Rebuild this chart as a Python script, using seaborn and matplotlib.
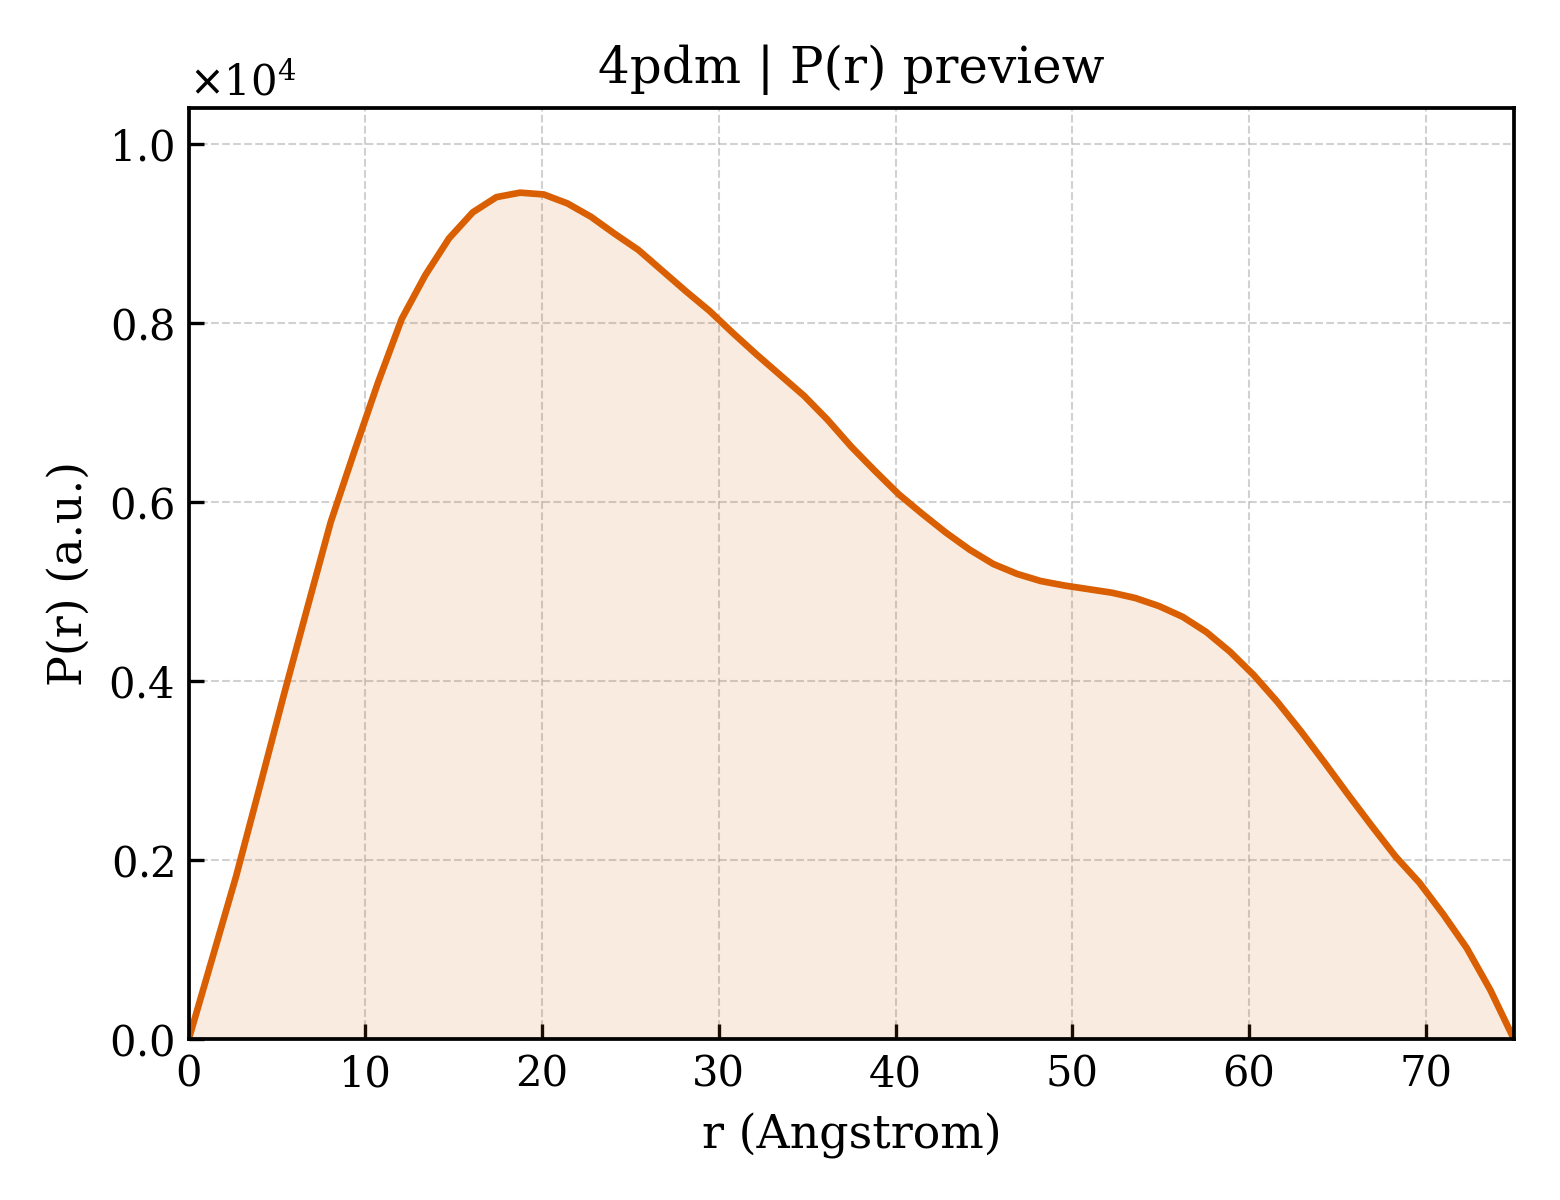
import numpy as np
import pandas as pd
import matplotlib
matplotlib.use("Agg")
import matplotlib.pyplot as plt
import seaborn as sns


TITLE = "4pdm | P(r) preview"
LINE_COLOR = "#D95F02"

# r grid: 57 points from 0 to Dmax = 75 A
R_MAX = 75.0
N_POINTS = 57

# P(r) values, in units of 1e4
PR_SCALED = [
    0.000, 0.091, 0.182, 0.282, 0.383, 0.481, 0.578, 0.657, 0.734, 0.805,
    0.854, 0.895, 0.924, 0.941, 0.946, 0.944, 0.934, 0.919, 0.900, 0.882,
    0.859, 0.836, 0.814, 0.789, 0.765, 0.742, 0.719, 0.692, 0.662, 0.635,
    0.609, 0.587, 0.566, 0.547, 0.531, 0.520, 0.512, 0.507, 0.503, 0.499,
    0.493, 0.484, 0.472, 0.455, 0.433, 0.407, 0.377, 0.344, 0.309, 0.273,
    0.238, 0.204, 0.175, 0.140, 0.102, 0.055, 0.000,
]


def main():
    r = np.linspace(0.0, R_MAX, N_POINTS)
    pr = np.array(PR_SCALED) * 1e4
    df = pd.DataFrame({"r": r, "pr": pr})

    sns.set_style("white")
    plt.rcParams["font.family"] = ["DejaVu Serif"]
    plt.rcParams["xtick.direction"] = "in"
    plt.rcParams["ytick.direction"] = "in"
    plt.rcParams["text.color"] = "black"
    plt.rcParams["axes.labelcolor"] = "black"
    plt.rcParams["xtick.color"] = "black"
    plt.rcParams["ytick.color"] = "black"

    fig, ax = plt.subplots(figsize=(5.2, 4.0), dpi=300)
    fig.subplots_adjust(left=0.121, right=0.9705, bottom=0.134, top=0.91)

    ax.fill_between(df["r"], 0, df["pr"], color=LINE_COLOR, alpha=0.12, lw=0)
    sns.lineplot(data=df, x="r", y="pr", ax=ax, color=LINE_COLOR, lw=1.6)

    ax.set_xlim(0, R_MAX)
    ax.set_ylim(0, pr.max() * 1.1)
    ax.set_xticks(np.arange(0, 71, 10))
    ax.ticklabel_format(axis="y", style="sci", scilimits=(0, 0), useMathText=True)

    ax.set_xlabel("r (Angstrom)", fontsize=11, color="black")
    ax.set_ylabel("P(r) (a.u.)", fontsize=11, color="black")
    ax.set_title(TITLE, fontsize=12, color="black")

    ax.tick_params(axis="both", which="major", labelsize=10, length=3.5, width=0.8,
                   color="black", labelcolor="black", bottom=True, left=True)
    ax.yaxis.get_offset_text().set_fontsize(10)
    ax.yaxis.get_offset_text().set_color("black")
    ax.grid(True, ls="--", lw=0.5, color="0.6", alpha=0.45)
    for side in ax.spines.values():
        side.set_color("black")
        side.set_linewidth(0.9)

    fig.savefig("out.png", dpi=300)
    plt.close(fig)


if __name__ == "__main__":
    main()
